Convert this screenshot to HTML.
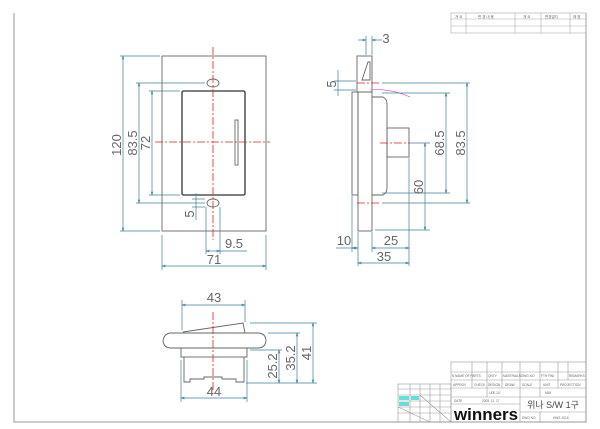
<!DOCTYPE html>
<html><head><meta charset="utf-8"><style>
html,body{margin:0;padding:0;background:#fff;}
svg{display:block;}
text{font-family:"Liberation Sans","Noto Sans CJK KR",sans-serif;}
</style></head><body>
<svg width="600" height="429" viewBox="0 0 600 429" xmlns="http://www.w3.org/2000/svg">
<defs>
<marker id="a" markerWidth="6" markerHeight="6" refX="5" refY="3" orient="auto-start-reverse"><path d="M0,1.5 L5,3 L0,4.5" fill="none" stroke="#3f7f96" stroke-width="0.8"/></marker>
</defs>
<g fill="none" stroke="#999" stroke-width="1">
<path d="M14,13 V422 H586 V13"/>
</g>
<g stroke="#aaa" stroke-width="0.6" fill="none">
<rect x="451" y="13" width="135" height="20"/>
<line x1="451" y1="19" x2="586" y2="19"/><line x1="451" y1="26" x2="586" y2="26"/>
<line x1="466" y1="13" x2="466" y2="33"/><line x1="515" y1="13" x2="515" y2="33"/>
<line x1="541" y1="13" x2="541" y2="33"/><line x1="570" y1="13" x2="570" y2="33"/>
</g>
<g font-size="3.5" fill="#666"><text x="455" y="18">개 요</text><text x="478" y="18">변 경 내 용</text><text x="523" y="18">개 요</text><text x="545" y="18">변경일자</text><text x="573" y="18">제 명</text></g>

<g stroke="#666" fill="none" stroke-width="0.9">
<rect x="162" y="56" width="104" height="175"/>
<rect x="182" y="91" width="63" height="104" rx="1.5" stroke="#333" stroke-width="1.3"/>
<rect x="235" y="120" width="3" height="45"/>
<ellipse cx="213" cy="83" rx="6" ry="4"/>
<ellipse cx="213" cy="203" rx="6" ry="4"/>
<rect x="357" y="56" width="15" height="36"/>
<path d="M362,80 L368,62 H370 V80 Z"/>
<rect x="352" y="92" width="6" height="103"/>
<rect x="358" y="92" width="14" height="139"/>
<path d="M372,97 H383 Q387,99 387,104 V188 Q387,193 383,195 H372"/>
<rect x="387" y="128" width="22" height="29"/>
<path d="M183,332 L243,323 L245,333"/>
<path d="M170,333 H259 Q266,334 266,341 Q265,348 258,348 H171 Q164,348 163,341 Q164,334 170,333 Z"/>
<rect x="181" y="348" width="66" height="9"/>
<path d="M184,357 V382 H190 V379 H204 V377 H222 V379 H236 V382 H244 V357"/>
</g>
<g stroke="#d22" stroke-width="0.8" stroke-dasharray="8,2,2,2" fill="none">
<line x1="213" y1="47" x2="213" y2="240"/>
<line x1="155" y1="142" x2="270" y2="142"/>
<line x1="357" y1="83" x2="380" y2="83"/>
<line x1="357" y1="203" x2="380" y2="203"/>
<line x1="380" y1="143" x2="410" y2="143"/>
<line x1="213" y1="312" x2="213" y2="392"/>
</g>
<path d="M370,90 Q390,88 410,97" stroke="#c4c" stroke-width="0.6" fill="none"/>

<g stroke="#3f7f96" stroke-width="0.7" fill="none">
<line x1="123" y1="56" x2="123" y2="231" marker-start="url(#a)" marker-end="url(#a)"/>
<line x1="120" y1="56" x2="160" y2="56"/><line x1="120" y1="231" x2="160" y2="231"/>
<line x1="139" y1="83" x2="139" y2="203" marker-start="url(#a)" marker-end="url(#a)"/>
<line x1="136" y1="83" x2="205" y2="83"/><line x1="136" y1="203" x2="205" y2="203"/>
<line x1="152" y1="91" x2="152" y2="195" marker-start="url(#a)" marker-end="url(#a)"/>
<line x1="149" y1="91" x2="180" y2="91"/><line x1="149" y1="195" x2="180" y2="195"/>
<line x1="196" y1="193" x2="196" y2="220"/><line x1="192" y1="199" x2="205" y2="199"/><line x1="192" y1="207" x2="205" y2="207"/>
<line x1="206" y1="207" x2="206" y2="254"/><line x1="220" y1="207" x2="220" y2="254"/>
<line x1="206" y1="251" x2="220" y2="251" marker-start="url(#a)" marker-end="url(#a)"/><line x1="220" y1="251" x2="247" y2="251"/>
<line x1="162" y1="235" x2="162" y2="270"/><line x1="266" y1="235" x2="266" y2="270"/>
<line x1="162" y1="266" x2="266" y2="266" marker-start="url(#a)" marker-end="url(#a)"/>
<line x1="366" y1="36" x2="366" y2="55"/><line x1="372" y1="36" x2="372" y2="55"/>
<line x1="358" y1="40" x2="366" y2="40" marker-end="url(#a)"/><line x1="372" y1="40" x2="382" y2="40" marker-start="url(#a)"/>
<line x1="338" y1="70" x2="338" y2="96"/><line x1="334" y1="81" x2="356" y2="81"/><line x1="334" y1="90" x2="356" y2="90"/>
<line x1="382" y1="83" x2="470" y2="83"/><line x1="382" y1="203" x2="470" y2="203"/>
<line x1="467" y1="83" x2="467" y2="203" marker-start="url(#a)" marker-end="url(#a)"/>
<line x1="382" y1="93" x2="450" y2="93"/><line x1="382" y1="193" x2="450" y2="193"/>
<line x1="446" y1="93" x2="446" y2="193" marker-start="url(#a)" marker-end="url(#a)"/>
<line x1="410" y1="143" x2="430" y2="143"/><line x1="375" y1="230" x2="430" y2="230"/>
<line x1="425" y1="143" x2="425" y2="230" marker-start="url(#a)" marker-end="url(#a)"/>
<line x1="358" y1="232" x2="358" y2="266"/><line x1="372" y1="232" x2="372" y2="252"/><line x1="409" y1="158" x2="409" y2="266"/><line x1="352" y1="196" x2="352" y2="252"/>
<line x1="336" y1="248" x2="352" y2="248"/>
<line x1="352" y1="248" x2="358" y2="248" marker-start="url(#a)" marker-end="url(#a)"/>
<line x1="372" y1="248" x2="409" y2="248" marker-start="url(#a)" marker-end="url(#a)"/>
<line x1="358" y1="263" x2="409" y2="263" marker-start="url(#a)" marker-end="url(#a)"/>
<line x1="182" y1="300" x2="182" y2="330"/><line x1="245" y1="300" x2="245" y2="322"/>
<line x1="182" y1="305" x2="245" y2="305" marker-start="url(#a)" marker-end="url(#a)"/>
<line x1="181" y1="360" x2="181" y2="402"/><line x1="247" y1="360" x2="247" y2="402"/>
<line x1="181" y1="398" x2="247" y2="398" marker-start="url(#a)" marker-end="url(#a)"/>
<line x1="250" y1="323" x2="317" y2="323"/><line x1="268" y1="333" x2="300" y2="333"/><line x1="250" y1="350" x2="282" y2="350"/><line x1="246" y1="383" x2="317" y2="383"/>
<line x1="279" y1="350" x2="279" y2="383" marker-start="url(#a)" marker-end="url(#a)"/>
<line x1="297" y1="333" x2="297" y2="383" marker-start="url(#a)" marker-end="url(#a)"/>
<line x1="313" y1="323" x2="313" y2="383" marker-start="url(#a)" marker-end="url(#a)"/>
</g>
<g fill="#666" font-size="13">
<text transform="translate(121,145) rotate(-90)" text-anchor="middle">120</text>
<text transform="translate(137,143) rotate(-90)" text-anchor="middle">83.5</text>
<text transform="translate(150,143) rotate(-90)" text-anchor="middle">72</text>
<text transform="translate(194,214) rotate(-90)" text-anchor="middle">5</text>
<text x="234" y="248" text-anchor="middle">9.5</text>
<text x="214" y="264" text-anchor="middle">71</text>
<text x="386" y="43" text-anchor="middle">3</text>
<text transform="translate(336,84) rotate(-90)" text-anchor="middle">5</text>
<text transform="translate(444,143) rotate(-90)" text-anchor="middle">68.5</text>
<text transform="translate(465,143) rotate(-90)" text-anchor="middle">83.5</text>
<text transform="translate(423,187) rotate(-90)" text-anchor="middle">60</text>
<text x="344" y="245" text-anchor="middle">10</text>
<text x="391" y="245" text-anchor="middle">25</text>
<text x="384" y="261" text-anchor="middle">35</text>
<text x="214" y="302" text-anchor="middle">43</text>
<text x="214" y="396" text-anchor="middle">44</text>
<text transform="translate(277,366) rotate(-90)" text-anchor="middle">25.2</text>
<text transform="translate(295,358) rotate(-90)" text-anchor="middle">35.2</text>
<text transform="translate(311,353) rotate(-90)" text-anchor="middle">41</text>
</g>

<g stroke="#999" stroke-width="0.6" fill="none">
<rect x="451" y="362" width="135" height="60"/>
<line x1="451" y1="372" x2="586" y2="372"/><line x1="451" y1="380" x2="586" y2="380"/>
<line x1="451" y1="388" x2="586" y2="388"/><line x1="451" y1="397" x2="586" y2="397"/>
<line x1="451" y1="404" x2="520" y2="404"/><line x1="520" y1="412" x2="586" y2="412"/>
<line x1="472" y1="362" x2="472" y2="388"/><line x1="487" y1="362" x2="487" y2="397"/><line x1="502" y1="362" x2="502" y2="388"/>
<line x1="520" y1="362" x2="520" y2="422"/><line x1="540" y1="362" x2="540" y2="397"/><line x1="558" y1="362" x2="558" y2="388"/>
<line x1="568" y1="362" x2="568" y2="380"/><line x1="540" y1="412" x2="540" y2="422"/>
<rect x="398" y="384" width="53" height="38"/>
<line x1="398" y1="389" x2="451" y2="389"/><line x1="398" y1="395" x2="451" y2="395"/><line x1="398" y1="401" x2="451" y2="401"/><line x1="398" y1="407" x2="451" y2="407"/><line x1="398" y1="413" x2="451" y2="413"/>
<line x1="410" y1="384" x2="410" y2="422"/><line x1="420" y1="384" x2="420" y2="422"/><line x1="430" y1="384" x2="430" y2="422"/><line x1="440" y1="384" x2="440" y2="422"/>
<line x1="398" y1="407" x2="430" y2="422"/><line x1="420" y1="395" x2="451" y2="422"/>
</g>
<g fill="#666" font-size="3.2">
<text x="452" y="377">N</text><text x="455" y="377">NAME OF PARTS</text><text x="488" y="377">QNTY</text><text x="503" y="377">MATERIALS</text><text x="521" y="377">DWG NO</text><text x="541" y="377">FTH FINI</text><text x="569" y="377">REMARKS</text>
<text x="453" y="386">APPROV</text><text x="474" y="386">CHECK</text><text x="488" y="386">DESIGN</text><text x="505" y="386">DRAW</text><text x="522" y="386">SCALE</text><text x="543" y="386">UNIT</text><text x="560" y="386">PROJECTION</text>
<text x="489" y="394">LEE.J.K</text><text x="545" y="394">M/M</text>
<text x="454" y="402">DATE</text><text x="482" y="402">2005. 11. 17</text>
<text x="522" y="419">DWG NO</text><text x="553" y="419">HWS-1016</text>
</g>
<text x="553" y="408" font-size="9" fill="#444" text-anchor="middle">위나 S/W 1구</text>
<text x="454" y="420" font-size="17" font-weight="bold" fill="#111" textLength="64" lengthAdjust="spacingAndGlyphs">winners</text>
<g fill="#6dd"><rect x="399" y="396" width="10" height="4"/><rect x="411" y="396" width="8" height="4"/><rect x="399" y="402" width="10" height="4"/></g>
</svg>
</body></html>
